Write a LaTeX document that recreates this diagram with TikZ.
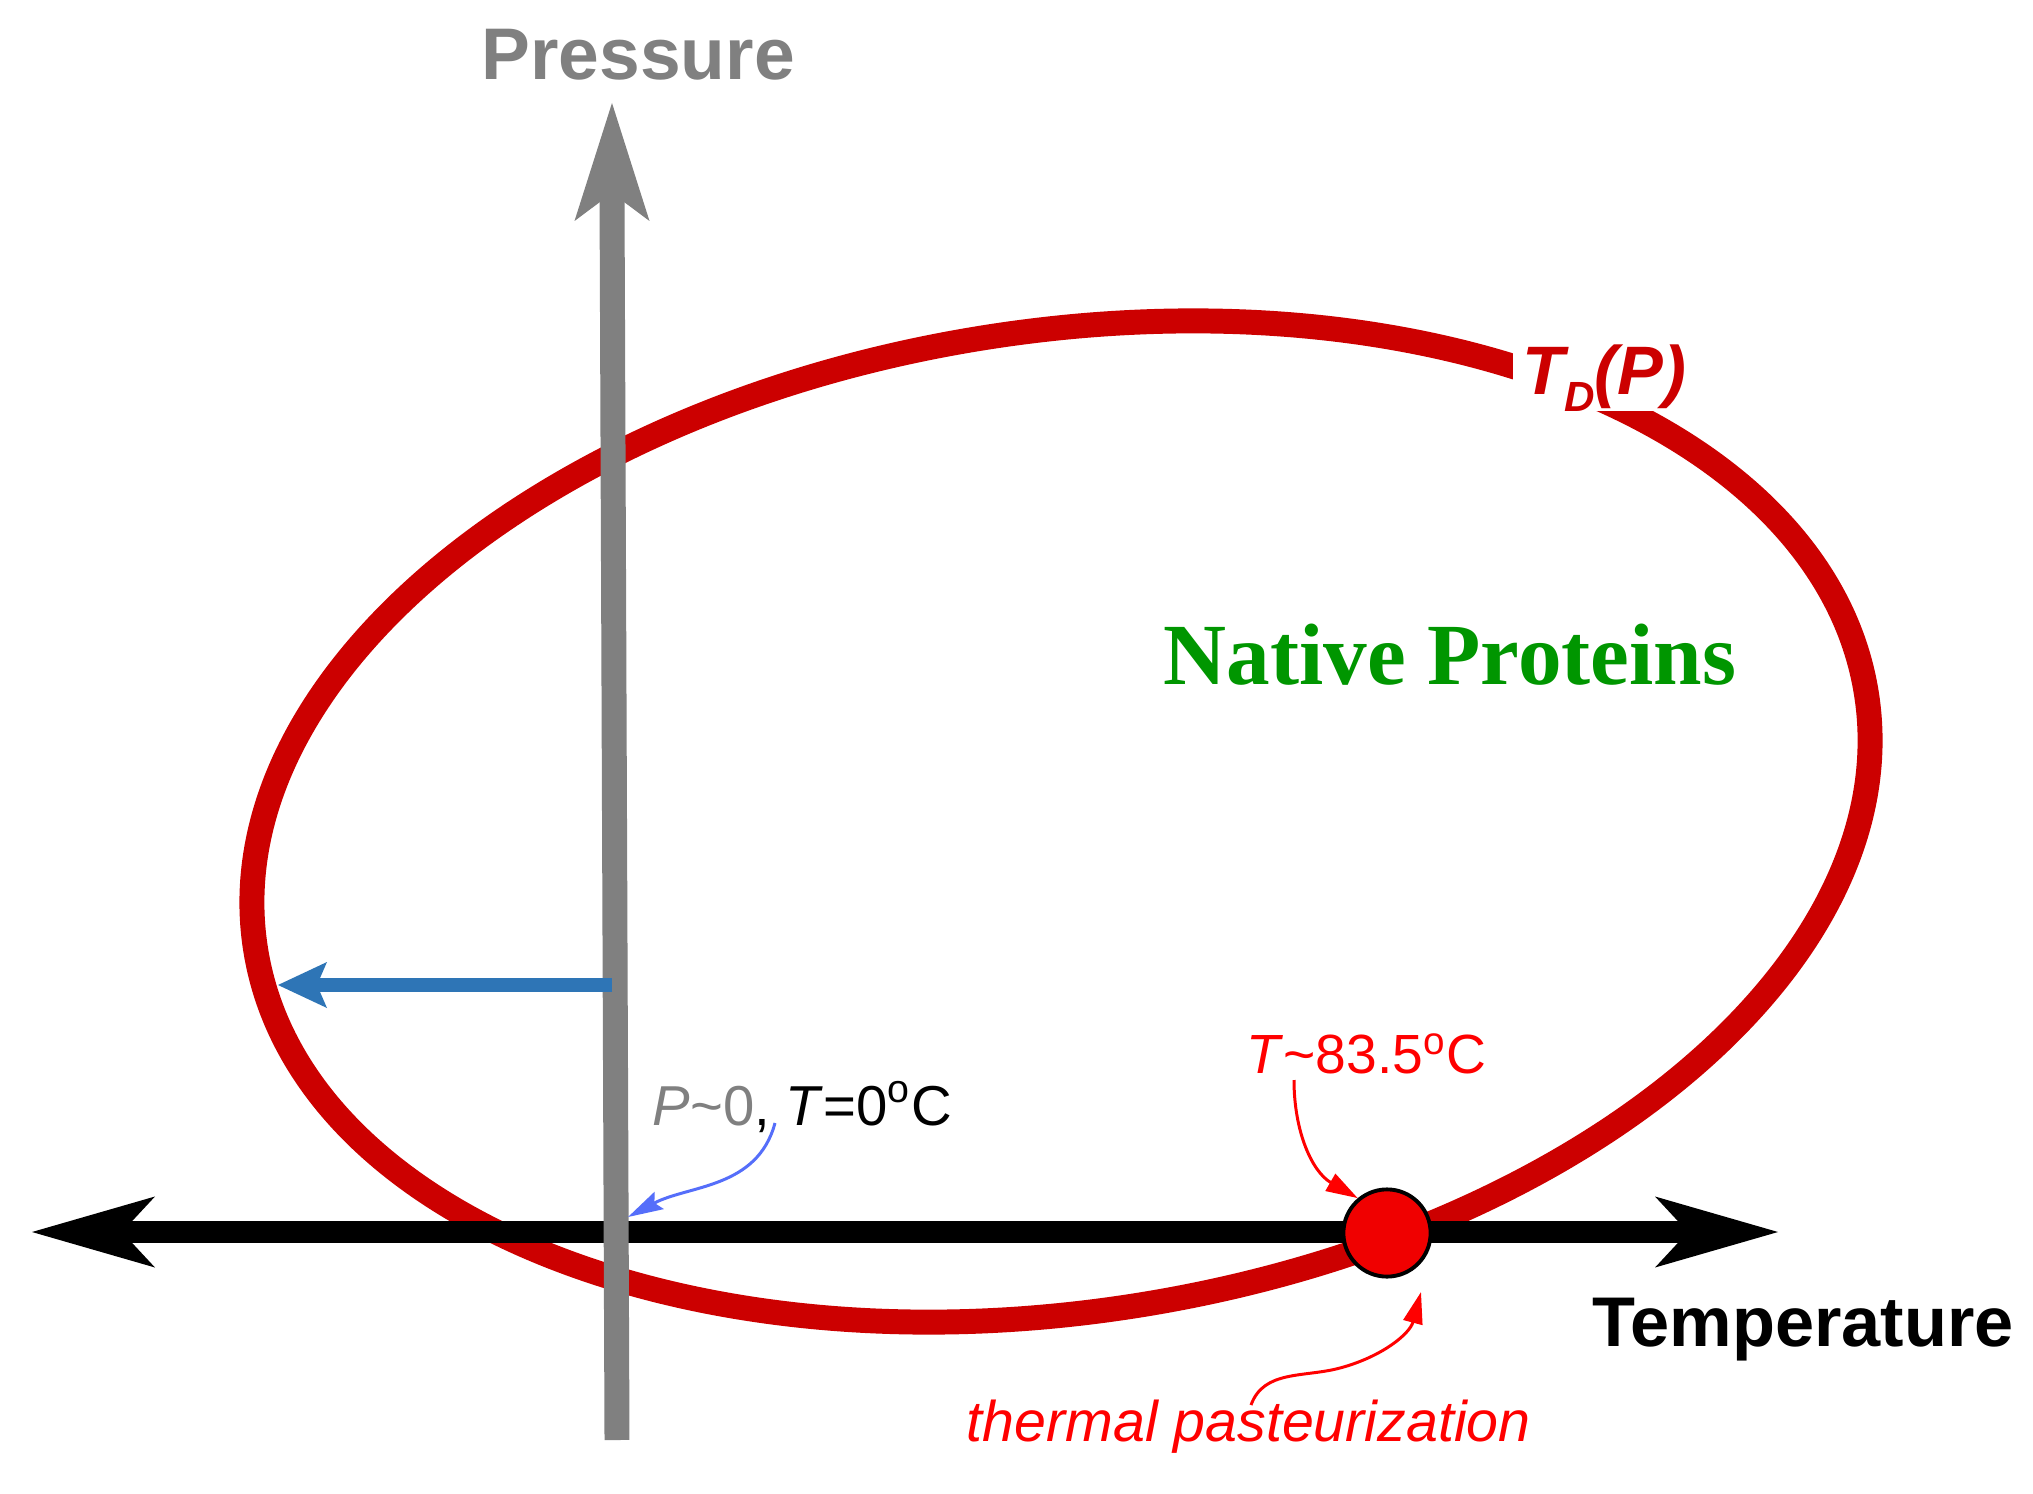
\documentclass[tikz,border=0pt]{standalone}
\usepackage{fontspec}
\setmainfont{Liberation Sans}
\newfontfamily\nativefont{Liberation Serif}
\usetikzlibrary{arrows.meta}
\definecolor{axgray}{RGB}{128,128,128}
\definecolor{ellred}{RGB}{204,0,0}
\definecolor{brightred}{RGB}{255,0,0}
\definecolor{dotred}{RGB}{240,0,0}
\definecolor{arrblue}{RGB}{46,117,182}
\definecolor{leadblue}{RGB}{85,110,250}
\definecolor{natgreen}{RGB}{0,150,0}
\begin{document}
\begin{tikzpicture}[x=0.01cm,y=-0.01cm,
  lbl/.style={inner sep=0pt, anchor=base west},
  ellstyle/.style={draw=ellred, line width=7.1pt},
  thinred/.style={brightred, line width=0.85pt, -{Triangle[length=9pt,width=5.5pt]}},
  thinblue/.style={leadblue, line width=0.85pt, -{Stealth[length=10pt,width=5.5pt,inset=1.5pt]}}]
\fill[white] (0,0) rectangle (2033,1494);
\useasboundingbox (0,0) rectangle (2033,1494);

% denaturation ellipse
\draw[ellstyle, rotate around={9.04:(1061,821.5)}] (1061,821.5) ellipse [x radius=815.5, y radius=489.9];

% temperature axis
\coordinate (tl) at (32,1232);
\coordinate (tlnotch) at (122,1232);
\coordinate (tr) at (1778,1232);
\coordinate (trnotch) at (1688,1232);
\draw[black, line width=6.5pt] (tlnotch) -- (trnotch);
\fill[black] (tl) -- ++(123,-35.5) -- ++(-33,35.5) -- ++(33,35.5) -- cycle;
\fill[black] (tr) -- ++(-123,-35.5) -- ++(33,35.5) -- ++(-33,35.5) -- cycle;

% pressure axis
\coordinate (pbot) at (617,1440);
\coordinate (ptop) at (612,103);
\coordinate (pnotch) at (612,193);
\draw[axgray, line width=7.1pt] (pbot) -- (pnotch);
\fill[axgray] (ptop) -- ++(-37.5,118) -- ++(37.5,-28) -- ++(37.5,28) -- cycle;

% blue arrow
\coordinate (bstart) at (612,985);
\coordinate (btip) at (278,985);
\coordinate (bnotch) at (317,985);
\draw[arrblue, line width=4pt] (bstart) -- (bnotch);
\fill[arrblue] (btip) -- ++(49,-23) -- ++(-10,23) -- ++(10,23) -- cycle;

% pasteurization point
\node[circle, draw=black, line width=1.1pt, fill=dotred, minimum size=24.8pt, inner sep=0pt] (dot) at (1387,1233) {};

% labels
\node[lbl, text=axgray] (press) at (481,80) {\fontsize{20.8}{24}\selectfont\bfseries Pressure};
\node[lbl] (temp) at (1592,1346) {\fontsize{20}{24}\selectfont\bfseries Temperature};
\node[lbl, text=natgreen] (native) at (1163,684) {\nativefont\fontsize{24.8}{28}\selectfont\bfseries Native Proteins};
\node[lbl, fill=white, inner xsep=2.8pt, text height=16.8pt, text depth=4.8pt, text=ellred] (td) at (1512,394)
  {\fontsize{19.5}{23}\selectfont\bfseries\itshape T\raisebox{-5pt}{\fontsize{12}{14}\selectfont D}(P)};
\node[lbl, text=brightred] (t835) at (1246,1073) {\fontsize{15.7}{19}\selectfont\textit{T}\textasciitilde 83.5\textsuperscript{o}C};
\node[lbl] (p0) at (652,1125) {\fontsize{16}{19}\selectfont\textcolor{axgray}{\textit{P}\textasciitilde 0}, \textit{T}=0\textsuperscript{o}C};
\node[lbl, text=brightred] (past) at (966,1441) {\fontsize{16.3}{19}\selectfont\itshape thermal pasteurization};

% leaders
\coordinate (c835) at (1294,1080);
\draw[thinred] (c835) to[out=-90,in=150] (dot.130);
\coordinate (cpast) at (1251,1405);
\coordinate (cpastmid) at (1340,1368);
\coordinate (pasttip) at (1421,1292);
\draw[thinred] (cpast) to[out=70,in=195] (cpastmid) to[out=15,in=-105] (pasttip);
\coordinate (cp0) at (775,1123);
\coordinate (origtip) at (628,1217);
\draw[thinblue] (cp0) to[out=-105,in=28] (origtip);
\end{tikzpicture}
\end{document}
